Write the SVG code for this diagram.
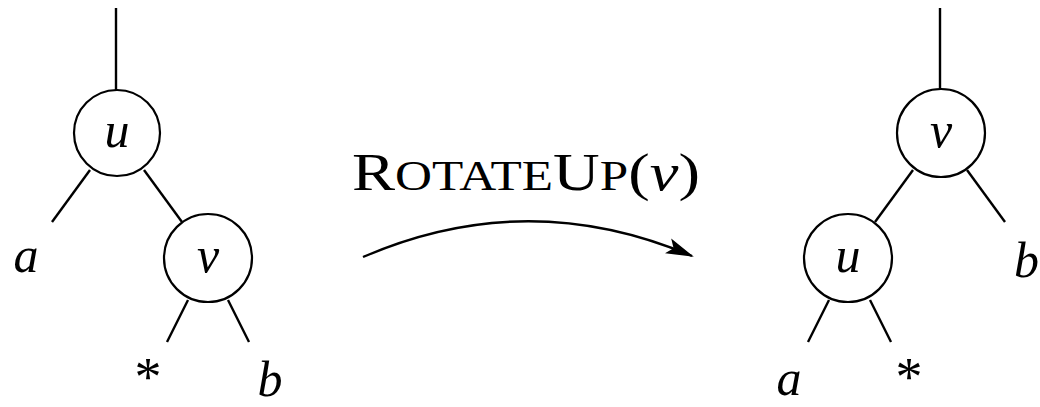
<svg xmlns="http://www.w3.org/2000/svg" width="1040" height="407" viewBox="0 0 1040 407">
<style>
.edge{stroke:#000;stroke-width:2.4;fill:none;stroke-linecap:butt}
.node circle{fill:#fff;stroke:#000;stroke-width:2.2}
.m{font-family:"Liberation Serif",serif;font-style:italic;font-size:50px;fill:#000;text-anchor:middle}
.ast{font-family:"Liberation Serif",serif;font-size:54px;fill:#000;text-anchor:middle}
.title{font-family:"Liberation Serif",serif;font-size:53px;fill:#000}
</style>
<defs>
<marker id="ah" markerWidth="28" markerHeight="18" refX="26" refY="9" orient="auto" markerUnits="userSpaceOnUse">
<path d="M0,1 L28,9 L0,17 L6,9 Z" fill="#000"/>
</marker>
</defs>
<rect width="1040" height="407" fill="#fff"/>
<g id="connectors">
<line class="edge" x1="116" y1="8" x2="116" y2="90"/>
<line class="edge" x1="90" y1="170" x2="52" y2="222"/>
<line class="edge" x1="144" y1="170" x2="182" y2="222"/>
<line class="edge" x1="188" y1="300" x2="167" y2="342"/>
<line class="edge" x1="228" y1="300" x2="249" y2="342"/>
<line class="edge" x1="940" y1="8" x2="940" y2="90"/>
<line class="edge" x1="913" y1="170" x2="875" y2="222"/>
<line class="edge" x1="967" y1="170" x2="1005" y2="222"/>
<line class="edge" x1="829" y1="300" x2="808" y2="342"/>
<line class="edge" x1="870" y1="300" x2="891" y2="342"/>
<path class="edge" d="M363,257 Q527,186 692,256" marker-end="url(#ah)"/>
</g>
<g id="node-u-left" class="node"><circle cx="117" cy="133" r="43"/><text class="m" x="117" y="147">u</text></g>
<g id="node-v-left" class="node"><circle cx="208" cy="258" r="44"/><text class="m" x="208" y="272">v</text></g>
<g id="node-v-right" class="node"><circle cx="941" cy="133" r="44"/><text class="m" x="941" y="147">v</text></g>
<g id="node-u-right" class="node"><circle cx="848" cy="258" r="44"/><text class="m" x="848" y="272">u</text></g>
<g id="labels">
<text class="m" x="26" y="272">a</text>
<text class="ast" x="148" y="395">*</text>
<text class="m" x="270" y="396">b</text>
<text class="m" x="789" y="395">a</text>
<text class="ast" x="909" y="395">*</text>
<text class="m" x="1014" y="277" style="text-anchor:start">b</text>
</g>
<g id="title">
<text class="title" x="352" y="190" textLength="348" lengthAdjust="spacingAndGlyphs">R<tspan font-size="42">OTATE</tspan>U<tspan font-size="42">P</tspan>(<tspan font-style="italic">v</tspan>)</text>
</g>
</svg>
